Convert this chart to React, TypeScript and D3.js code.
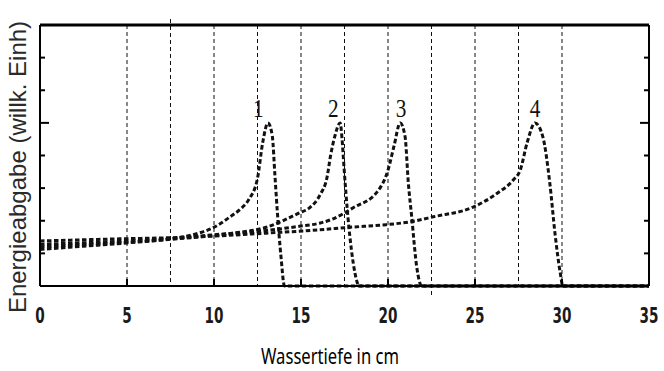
import React from 'react'
import * as d3 from 'd3'

// Bragg curves (depth in cm, energy in arb. units)
const depth1 = [0, 2.5, 5, 7.5, 9, 10, 11, 11.5, 12, 12.5, 12.8, 13.1, 13.35, 13.5, 13.65, 13.85, 14.05, 35]
const energy1 = [1.12, 1.22, 1.32, 1.45, 1.6, 1.8, 2.15, 2.35, 2.65, 3.3, 4.4, 5.0, 4.6, 3.4, 2.2, 0.9, 0, 0]

const depth2 = [0, 2.5, 5, 7.5, 10, 11.1, 13, 14.9, 15.5, 16.1, 16.5, 16.7, 16.95, 17.25, 17.36, 17.47, 17.7, 17.9, 18.1, 18.35, 35]
const energy2 = [1.2, 1.27, 1.34, 1.43, 1.55, 1.62, 1.8, 2.24, 2.4, 2.8, 3.34, 4.0, 4.6, 5.0, 4.5, 3.65, 2.1, 1.1, 0.4, 0, 0]

const depth3 = [0, 5, 7.5, 10, 13, 14.9, 16.1, 16.8, 18, 19.4, 20, 20.35, 20.7, 20.98, 21.17, 21.36, 21.65, 21.94, 35]
const energy3 = [1.28, 1.38, 1.45, 1.57, 1.7, 1.83, 1.93, 2.05, 2.4, 2.9, 3.55, 4.3, 5.0, 4.58, 3.15, 2.13, 0.59, 0, 0]

const depth4 = [0, 5, 7.5, 10, 13, 16, 17.8, 19.9, 21.3, 22.6, 24.9, 26.3, 27.2, 27.6, 28, 28.45, 28.9, 29.3, 29.6, 29.9, 30.05, 35]
const energy4 = [1.38, 1.45, 1.48, 1.53, 1.62, 1.72, 1.8, 1.88, 1.97, 2.12, 2.42, 2.85, 3.25, 3.55, 4.4, 5.0, 4.57, 3.15, 1.6, 0.4, 0, 0]

const curveLabels = ['1', '2', '3', '4']
const labelDepths = [12.55, 16.85, 20.75, 28.45]

const xTickLabels = [0, 5, 10, 15, 20, 25, 30, 35]
const xMinorTicks = [5, 10, 15, 20, 25, 30]
const gridDepths = [5, 7.5, 10, 12.5, 15, 17.5, 20, 22.5, 25, 27.5, 30]
const yTicks = [1, 2, 3, 4, 5, 6, 7]

const W = 664
const H = 371

export default function App() {
    const x = d3.scaleLinear().domain([0, 35]).range([40, 649])
    const y = d3.scaleLinear().domain([0, 8]).range([286, 25])

    const series = [
        depth1.map((d, i) => [d, energy1[i]]),
        depth2.map((d, i) => [d, energy2[i]]),
        depth3.map((d, i) => [d, energy3[i]]),
        depth4.map((d, i) => [d, energy4[i]]),
    ] as [number, number][][]

    const line = d3.line<[number, number]>()
        .x(d => x(d[0]))
        .y(d => y(d[1]))
        .curve(d3.curveMonotoneX)

    const [x0, x1] = x.range()
    const [yb, yt] = y.range()

    return (
        <svg width={W} height={H} style={{ position: 'absolute', left: 0, top: 0, background: '#fff' }}>
            {/* vertical dashed grid */}
            {gridDepths.map(d => (
                <line key={d} x1={x(d)} x2={x(d)}
                    y1={d === 7.5 ? yt - 6 : yt} y2={d === 22.5 ? yb + 10 : yb}
                    stroke="#111" strokeWidth={1} strokeDasharray="4,3" />
            ))}

            {/* curves */}
            {series.map((s, i) => (
                <path key={i} d={line(s) || ''} fill="none" stroke="#111"
                    strokeWidth={3} strokeDasharray="4.5,2.5" />
            ))}

            {/* frame */}
            <line x1={x0} x2={x1} y1={yt} y2={yt} stroke="#000" strokeWidth={3} />
            <line x1={x0} x2={x1} y1={yb} y2={yb} stroke="#000" strokeWidth={2} />
            <line x1={x0} x2={x0} y1={yt} y2={yb} stroke="#000" strokeWidth={2} />
            <line x1={x1} x2={x1} y1={yt} y2={yb} stroke="#000" strokeWidth={2} />

            {/* y ticks, both sides */}
            {yTicks.map(t => {
                const len = t === 5 ? 9 : 5
                return (
                    <g key={t}>
                        <line x1={x0} x2={x0 + len} y1={y(t)} y2={y(t)} stroke="#000" strokeWidth={2} />
                        <line x1={x1} x2={x1 - len} y1={y(t)} y2={y(t)} stroke="#000" strokeWidth={2} />
                    </g>
                )
            })}

            {/* x ticks */}
            {xMinorTicks.map(t => (
                <line key={t} x1={x(t)} x2={x(t)} y1={yb} y2={yb - 7} stroke="#000" strokeWidth={2} />
            ))}

            {/* x tick labels */}
            {xTickLabels.map(t => (
                <text key={t} transform={`translate(${x(t)},323) scale(0.72,1)`} textAnchor="middle"
                    style={{ fontFamily: '"DejaVu Sans Condensed", "DejaVu Sans", sans-serif', fontSize: 21, fontWeight: 600 }}
                    fill="#1a1a1a">{t}</text>
            ))}

            {/* curve labels */}
            {curveLabels.map((l, i) => (
                <text key={l} transform={`translate(${x(labelDepths[i])},117) scale(0.85,1)`} textAnchor="middle"
                    style={{ fontFamily: '"Liberation Serif", serif', fontSize: 25 }}
                    fill="#111">{l}</text>
            ))}

            {/* axis titles */}
            <text x={330} y={364} textAnchor="middle" textLength={138} lengthAdjust="spacingAndGlyphs"
                style={{ fontFamily: '"Noto Sans", sans-serif', fontSize: 22 }}
                fill="#000">Wassertiefe in cm</text>
            <text transform="translate(26,167) rotate(-90)" textAnchor="middle"
                style={{ fontFamily: '"Liberation Sans", Arial, sans-serif', fontSize: 24 }}
                fill="#2a2a2a">Energieabgabe (willk. Einh)</text>
        </svg>
    )
}
